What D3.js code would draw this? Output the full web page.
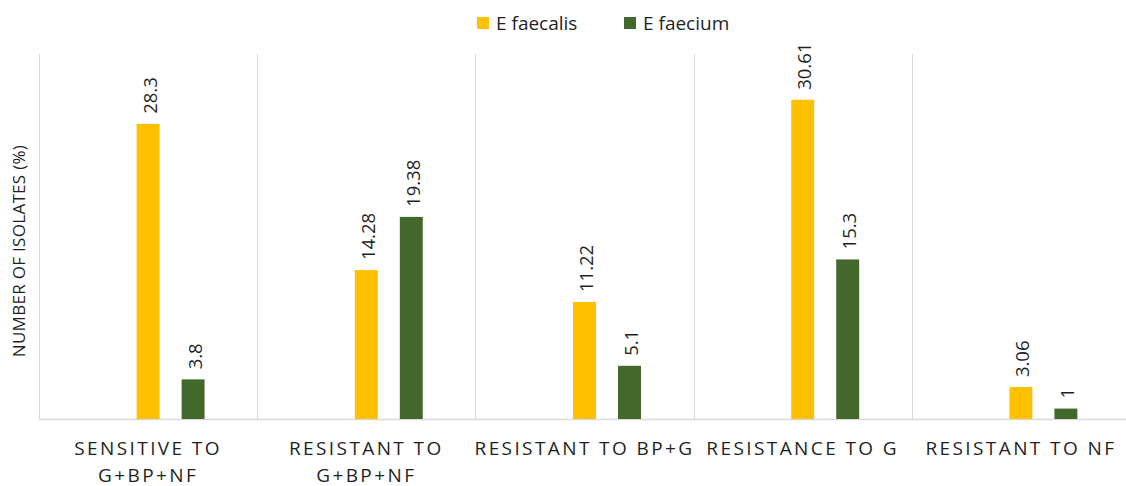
<!DOCTYPE html>
<html>
<head>
<meta charset="utf-8">
<script src="https://cdn.jsdelivr.net/npm/d3@7"></script>
<style>
  html, body { margin: 0; padding: 0; background: #fff; }
  svg { display: block; font-family: "Open Sans", sans-serif; }
</style>
</head>
<body>
<svg id="chart" width="1126" height="486"></svg>
<script>
// ---- data ----
const categories = [
  ["SENSITIVE TO", "G+BP+NF"],
  ["RESISTANT TO", "G+BP+NF"],
  ["RESISTANT TO BP+G"],
  ["RESISTANCE TO G"],
  ["RESISTANT TO NF"]
];
const seriesNames = ["E faecalis", "E faecium"];
const slots = ["(empty)", "E faecalis", "E faecium"]; // first slot is an empty series
const faecalis = [28.3, 14.28, 11.22, 30.61, 3.06];
const faecium = [3.8, 19.38, 5.1, 15.3, 1];
const valueLabels = {
  "E faecalis": ["28.3", "14.28", "11.22", "30.61", "3.06"],
  "E faecium": ["3.8", "19.38", "5.1", "15.3", "1"]
};
const colors = { "E faecalis": "#FFC000", "E faecium": "#43682B" };

// ---- layout ----
const svg = d3.select("#chart");
const plotL = 39, plotR = 1130, plotT = 54, plotB = 419;

const x0 = d3.scaleBand().domain(d3.range(categories.length)).range([plotL, plotR]).padding(0);
const bw = x0.bandwidth();
const groupW = 135;
const x1 = d3.scaleBand().domain(slots)
  .range([(bw - groupW) / 2, (bw + groupW) / 2])
  .paddingInner(0.49).paddingOuter(0.245);
const y = d3.scaleLinear().domain([0, 35]).range([plotB, plotT]);

// gridlines (category separators)
const grid = svg.append("g");
d3.range(categories.length + 1).forEach(i => {
  const gx = i < categories.length ? x0(i) : plotR;
  grid.append("line")
    .attr("x1", Math.round(gx) + 0.5).attr("x2", Math.round(gx) + 0.5)
    .attr("y1", plotT).attr("y2", plotB)
    .attr("stroke", "#d9d9d9").attr("stroke-width", 1);
});
// baseline
svg.append("line")
  .attr("x1", plotL).attr("x2", 1126)
  .attr("y1", plotB + 0.5).attr("y2", plotB + 0.5)
  .attr("stroke", "#d9d9d9").attr("stroke-width", 1.5);

// bars
const data = { "E faecalis": faecalis, "E faecium": faecium };
seriesNames.forEach(name => {
  const g = svg.append("g");
  data[name].forEach((v, i) => {
    const bx = x0(i) + x1(name);
    g.append("rect")
      .attr("x", bx).attr("width", x1.bandwidth())
      .attr("y", y(v)).attr("height", y(0) - y(v))
      .attr("fill", colors[name]);
    const cx = bx + x1.bandwidth() / 2 + 1;
    const ty = y(v) - 10;
    g.append("text")
      .attr("transform", `translate(${cx},${ty}) rotate(-90)`)
      .attr("dominant-baseline", "central")
      .attr("text-anchor", "start")
      .attr("font-size", 18.5)
      .attr("fill", "#1f1f1f")
      .text(valueLabels[name][i]);
  });
});

// category labels
categories.forEach((lines, i) => {
  const cx = x0(i) + bw / 2;
  lines.forEach((ln, j) => {
    svg.append("text")
      .attr("x", cx).attr("y", 455 + j * 26.5)
      .attr("text-anchor", "middle")
      .attr("font-size", 19)
      .attr("letter-spacing", 2.4)
      .attr("fill", "#1f1f1f")
      .text(ln);
  });
});

// y axis title
svg.append("text")
  .attr("transform", `translate(18,251) rotate(-90)`)
  .attr("text-anchor", "middle")
  .attr("dominant-baseline", "central")
  .attr("font-size", 17)
  .attr("letter-spacing", 0.3)
  .attr("fill", "#1f1f1f")
  .text("NUMBER OF ISOLATES (%)");

// legend
const legendX = [477, 624];
seriesNames.forEach((name, i) => {
  const lg = svg.append("g").attr("transform", `translate(${legendX[i]},17)`);
  lg.append("rect").attr("width", 12).attr("height", 12).attr("fill", colors[name]);
  lg.append("text")
    .attr("x", 19).attr("y", 6)
    .attr("dominant-baseline", "central")
    .attr("font-size", 19)
    .attr("fill", "#1f1f1f")
    .text(name);
});
</script>
</body>
</html>
